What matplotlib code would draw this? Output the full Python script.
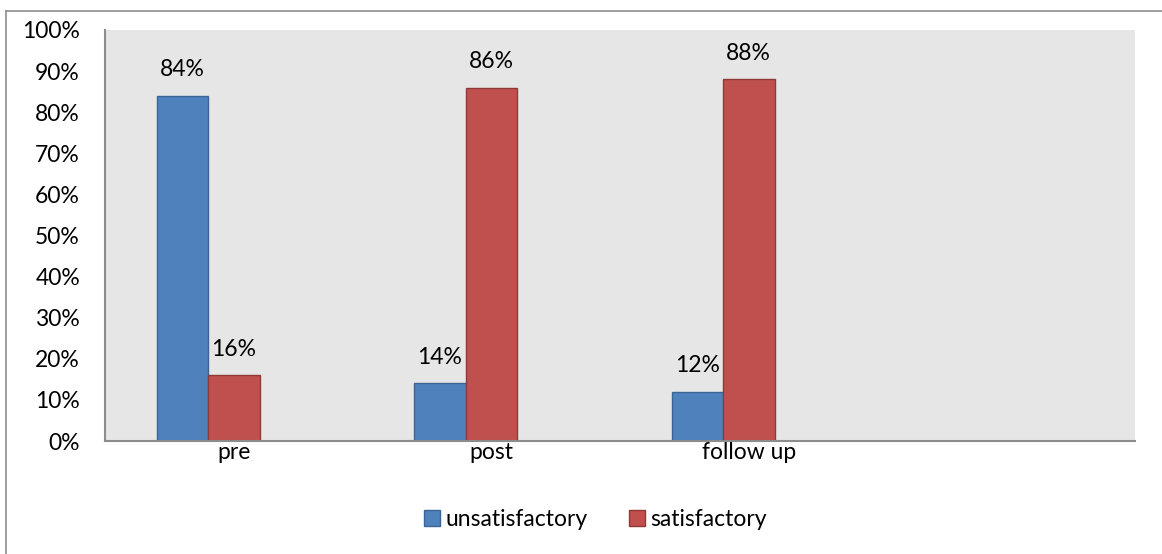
import matplotlib
matplotlib.use("Agg")
import matplotlib.pyplot as plt
from matplotlib.lines import Line2D
from matplotlib.ticker import PercentFormatter

categories = ["pre", "post", "follow up", ""]
unsatisfactory = [84, 14, 12, None]
satisfactory = [16, 86, 88, None]
series_names = ["unsatisfactory", "satisfactory"]
y_ticks = list(range(0, 101, 10))

plt.rcParams["font.family"] = ["Lato", "DejaVu Sans"]
FS = 16.5

W, H = 1162, 554
fig = plt.figure(figsize=(W / 100, H / 100), dpi=100)
ax = fig.add_axes([105 / W, 1 - 441 / H, 1030 / W, 411 / H])
ax.set_facecolor("#E6E6E6")

width = 0.2
x = list(range(len(categories)))
series = [
    (unsatisfactory, -width, "#4F81BD", "#3B6594"),
    (satisfactory, 0.0, "#C0504D", "#8E3A38"),
]
for (vals, off, color, edge), name in zip(series, series_names):
    xs = [i + off for i, v in zip(x, vals) if v is not None]
    ys = [v for v in vals if v is not None]
    bars = ax.bar(xs, ys, width=width, color=color, edgecolor=edge,
                  linewidth=1, label=name, zorder=2)
    for b, v in zip(bars, ys):
        ax.annotate(f"{v}%", (b.get_x() + b.get_width() / 2, b.get_height()),
                    xytext=(0, 11), textcoords="offset points",
                    ha="center", va="bottom", fontsize=FS)

ax.set_xlim(-0.5, len(categories) - 0.5)
ax.set_ylim(0, 100)
ax.set_yticks(y_ticks)
ax.yaxis.set_major_formatter(PercentFormatter(decimals=0))
ax.set_xticks(x)
ax.set_xticklabels(categories)
ax.tick_params(axis="y", length=0, pad=18, labelsize=FS)
ax.tick_params(axis="x", length=0, pad=1, labelsize=FS)
for s in ["top", "right"]:
    ax.spines[s].set_visible(False)
for s in ["left", "bottom"]:
    ax.spines[s].set_color("#8C8C8C")
    ax.spines[s].set_linewidth(1.5)

ax.legend(loc="center", bbox_to_anchor=(0.476, -0.192), ncol=2,
          frameon=False, fontsize=FS, handlelength=0.7, handleheight=0.7,
          handletextpad=0.25, columnspacing=1.8, borderpad=0)

# outer chart frame (cropped at right and bottom)
fig.add_artist(Line2D([6 / W, 1.0], [1 - 11 / H, 1 - 11 / H], color="#8C8C8C", lw=1.2))
fig.add_artist(Line2D([6 / W, 6 / W], [0.0, 1 - 11 / H], color="#8C8C8C", lw=1.2))

fig.savefig("out.png", dpi=100)
